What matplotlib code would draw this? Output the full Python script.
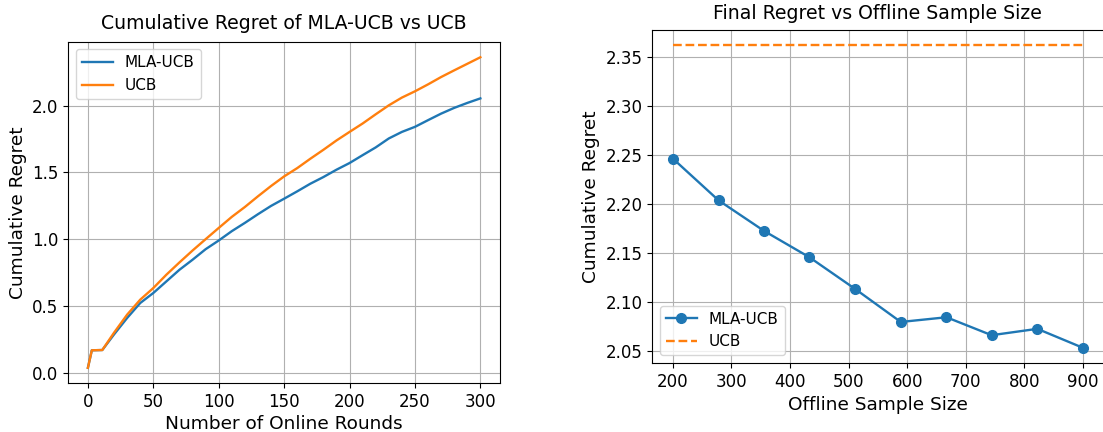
import matplotlib
matplotlib.use("Agg")
import matplotlib.pyplot as plt

# Left panel data: cumulative regret vs online rounds
rounds = [0, 3, 11, 20, 30, 40, 50, 60, 70, 80, 90, 100, 110, 120, 130, 140, 150,
          160, 170, 180, 190, 200, 210, 220, 230, 240, 250, 260, 270, 280, 290, 300]
mla_ucb_regret = [0.037, 0.168, 0.170, 0.287, 0.410, 0.522, 0.597, 0.684, 0.771, 0.846,
                  0.925, 0.990, 1.060, 1.122, 1.187, 1.249, 1.303, 1.358, 1.415, 1.465,
                  1.520, 1.570, 1.629, 1.687, 1.754, 1.803, 1.841, 1.891, 1.940, 1.983,
                  2.020, 2.054]
ucb_regret = [0.037, 0.168, 0.170, 0.300, 0.435, 0.547, 0.634, 0.734, 0.826, 0.915,
              1.000, 1.084, 1.167, 1.241, 1.321, 1.398, 1.470, 1.532, 1.602, 1.669,
              1.739, 1.803, 1.866, 1.935, 2.002, 2.060, 2.107, 2.159, 2.214, 2.264,
              2.313, 2.362]

# Right panel data: final regret vs offline sample size
sample_sizes = [200, 278, 356, 433, 511, 589, 667, 744, 822, 900]
final_mla = [2.2466, 2.2040, 2.1727, 2.1460, 2.1137, 2.0800, 2.0848, 2.0665, 2.0730, 2.0536]
final_ucb = 2.3625

TITLE_FS = 13.6
LABEL_FS = 13.3
TICK_FS = 12
LEGEND_FS = 11

fig = plt.figure(figsize=(11.03, 4.32), dpi=100)
ax1 = fig.add_axes([0.0619, 0.1127, 0.3914, 0.7907])
ax2 = fig.add_axes([0.5914, 0.1597, 0.4091, 0.7715])

ax1.plot(rounds, mla_ucb_regret, label="MLA-UCB", color="#1f77b4", lw=1.7)
ax1.plot(rounds, ucb_regret, label="UCB", color="#ff7f0e", lw=1.7)
ax1.set_title("Cumulative Regret of MLA-UCB vs UCB", fontsize=TITLE_FS, pad=9)
ax1.set_xlabel("Number of Online Rounds", fontsize=LABEL_FS, labelpad=2.5)
ax1.set_ylabel("Cumulative Regret", fontsize=LABEL_FS)
ax1.grid(True)
ax1.legend(loc="upper left", fontsize=LEGEND_FS)

ax2.plot(sample_sizes, final_mla, marker="o", markersize=7, label="MLA-UCB",
         color="#1f77b4", lw=1.7)
ax2.plot(sample_sizes, [final_ucb] * len(sample_sizes), "--", label="UCB",
         color="#ff7f0e", lw=1.7)
ax2.set_title("Final Regret vs Offline Sample Size", fontsize=TITLE_FS, pad=8)
ax2.set_xlabel("Offline Sample Size", fontsize=LABEL_FS)
ax2.set_ylabel("Cumulative Regret", fontsize=LABEL_FS)
ax2.grid(True)
ax2.legend(loc="lower left", fontsize=LEGEND_FS)

for ax in (ax1, ax2):
    ax.tick_params(labelsize=TICK_FS)

fig.savefig("out.png", dpi=100)
